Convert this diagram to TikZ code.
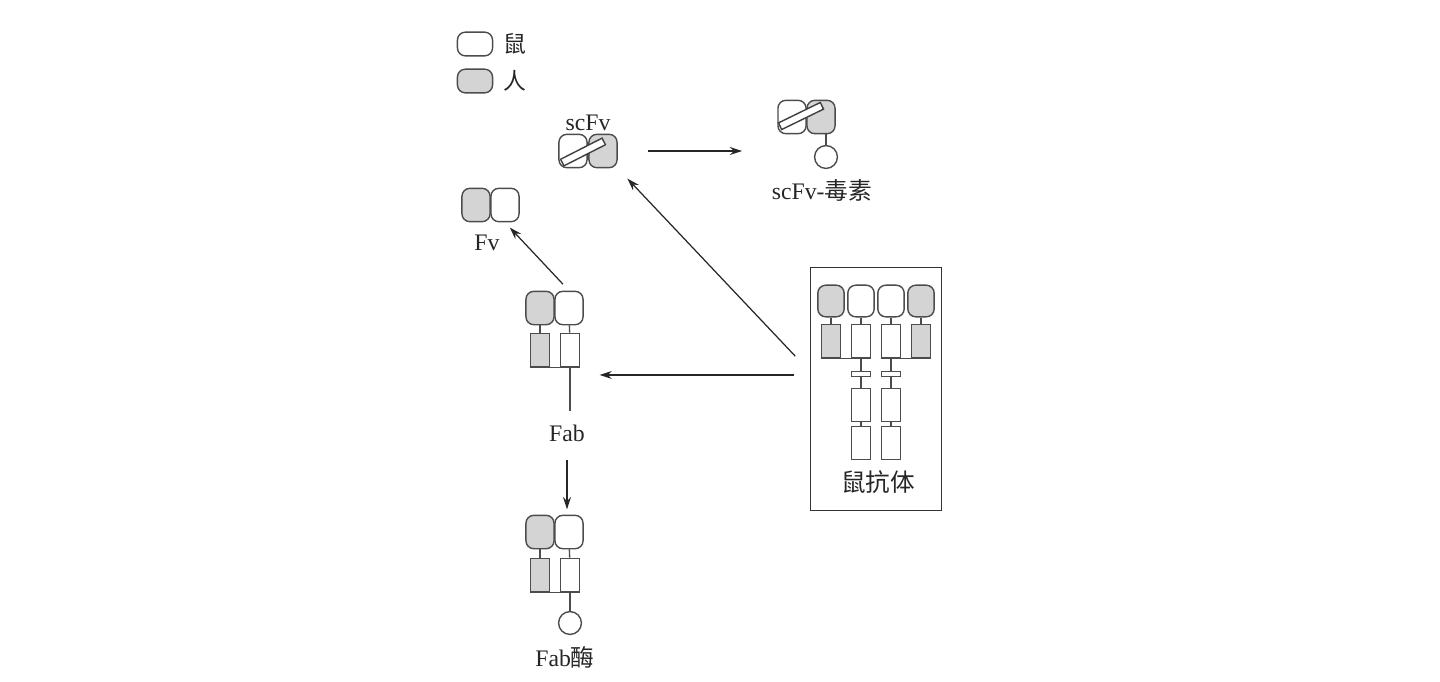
\documentclass[tikz,border=0pt]{standalone}
\usepackage{fontspec}
\setmainfont{Liberation Serif}
\newfontfamily\cjk{Noto Sans CJK SC}
\usetikzlibrary{arrows.meta}

\begin{document}
\begin{tikzpicture}[x=0.02cm,y=-0.02cm,font=\fontsize{13.5}{15}\selectfont,text=black!85]
\useasboundingbox (0,0) rectangle (1440,681);
\tikzstyle{vdom}=[rectangle,draw=black!70,line width=0.8pt,rounded corners=4.5pt,
minimum width=16pt,minimum height=19pt,inner sep=0pt]
\tikzstyle{cdom}=[rectangle,draw=black!70,line width=0.8pt,fill=white,
minimum width=11pt,minimum height=19pt,inner sep=0pt]
\tikzstyle{charn}=[cdom,minimum height=3pt]
\tikzstyle{humain}=[fill=black!17]
\tikzstyle{souris}=[fill=white]
\tikzstyle{lien}=[rectangle,draw=black!75,line width=0.8pt,fill=white,
minimum width=26.5pt,minimum height=4.2pt,inner sep=0pt]
\tikzstyle{toxine}=[circle,draw=black!70,line width=0.8pt,fill=white,
minimum size=13pt,inner sep=0pt]
\tikzstyle{hanzi}=[font=\fontsize{13}{15}\selectfont\cjk]
\tikzstyle{trait}=[draw=black!70,line width=0.8pt]

% legende
\node[vdom,souris,minimum width=20pt,minimum height=13.5pt] (lsouris) at (475,44) {};
\node[vdom,humain,minimum width=20pt,minimum height=13.5pt] (lhumain) at (475,81) {};
\node[hanzi] (tsouris) at (515,44) {鼠};
\node[hanzi] (thumain) at (515,81) {人};

% anticorps de souris
\node[draw=black!80,line width=0.7pt,minimum width=74.8pt,minimum height=138pt] (mab) at (876,389) {};
\foreach \i/\x/\f in {1/831/humain,2/861/souris,3/891/souris,4/921/humain} {
  \node[vdom,\f,minimum width=15pt,minimum height=18pt] (av\i) at (\x,301) {};
  \node[cdom,\f] (ac\i) at (\x,341) {};
  \draw[trait] (av\i) -- (ac\i);
}
\draw[trait] (ac1.south west) -- (ac2.south east);
\draw[trait] (ac3.south west) -- (ac4.south east);
\foreach \i/\x in {2/861,3/891} {
  \node[charn] (ah\i) at (\x,374) {};
  \node[cdom] (ad\i) at (\x,405) {};
  \node[cdom] (ae\i) at (\x,443) {};
  \draw[trait] (ac\i) -- (ah\i) (ah\i) -- (ad\i) (ad\i) -- (ae\i);
}
\node[hanzi,font=\fontsize{14}{16}\selectfont\cjk] (tmab) at (878,482) {鼠抗体};

% Fab
\node[vdom,humain] (fabv1) at (540,308) {};
\node[vdom,souris] (fabv2) at (569,308) {};
\node[cdom,humain] (fabc1) at (540,350) {};
\node[cdom,souris] (fabc2) at (570,350) {};
\draw[trait] (fabv1) -- (fabc1);
\draw[trait] (fabv2) -- (fabc2);
\draw[trait] (fabc1.south west) -- (fabc2.south east);
\draw[trait] (fabc2.south) -- ++(0,44);
\node (fab) at (567,433) {Fab};

% Fab enzyme
\node[vdom,humain] (enzv1) at (540,532) {};
\node[vdom,souris] (enzv2) at (569,532) {};
\node[cdom,humain] (enzc1) at (540,575) {};
\node[cdom,souris] (enzc2) at (570,575) {};
\node[toxine] (enz) at (570,623) {};
\draw[trait] (enzv1) -- (enzc1);
\draw[trait] (enzv2) -- (enzc2);
\draw[trait] (enzc1.south west) -- (enzc2.south east);
\draw[trait] (enzc2) -- (enz);
\node (tenz) at (565,657) {Fab{\cjk 酶}};

% Fv
\node[vdom,humain] (fv1) at (476,205) {};
\node[vdom,souris] (fv2) at (505,205) {};
\node (tfv) at (487,243) {Fv};

% scFv
\node[vdom,souris] (sc1) at (573,151) {};
\node[vdom,humain] (sc2) at (603,151) {};
\node[lien,rotate=27] (scl) at (583,152) {};
\node (tsc) at (588,123) {scFv};

% scFv-toxine
\node[vdom,souris] (st1) at (792,117) {};
\node[vdom,humain] (st2) at (821,117) {};
\node[lien,rotate=26] (stl) at (801,116) {};
\node[toxine] (tox) at (826,157) {};
\draw[trait] (tox.north |- st2.south) -- (tox);
\node (tst) at (822,190) {scFv-{\cjk 毒素}};

% fleches
\tikzstyle{fleche}=[-{Stealth[length=7pt,width=4.5pt]},line width=0.7pt,black!85]
\draw[fleche,shorten <=5pt,shorten >=4pt] (fabv2.north) -- (fv2.south);
\draw[fleche,shorten <=9pt,shorten >=9pt] ([yshift=8pt]mab.west) -- ([yshift=8pt]mab.west -| fabv2.east);
\draw[fleche,shorten <=12pt,shorten >=8pt] ([yshift=10pt]mab.west) -- (sc2.south east);
\draw[fleche,shorten <=17pt,shorten >=20pt] (sc2.east) -- (sc2.east -| st1.west);
\draw[fleche,shorten <=7pt,shorten >=3pt] (fab.south) -- (fab.south |- enzv2.north);

\end{tikzpicture}
\end{document}
